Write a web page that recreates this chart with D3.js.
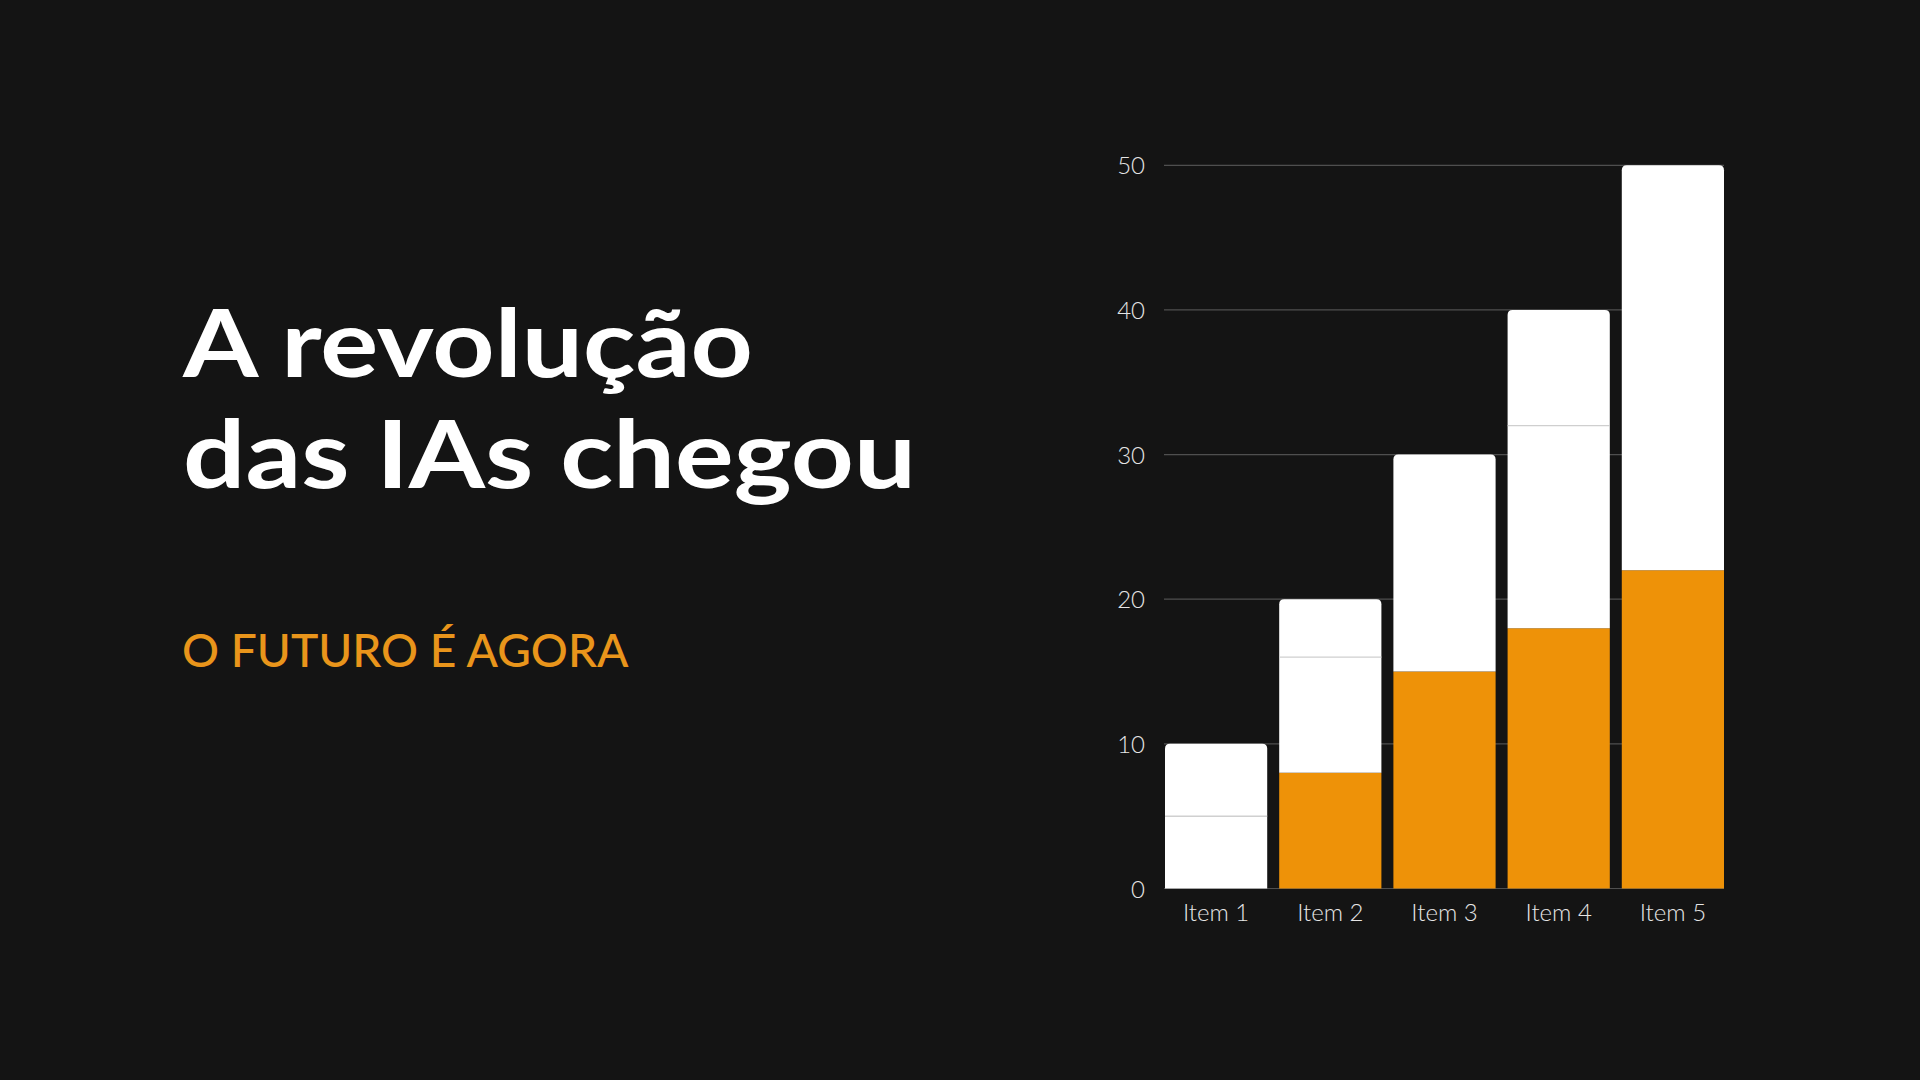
<!DOCTYPE html>
<html>
<head>
<meta charset="utf-8">
<script src="https://cdn.jsdelivr.net/npm/d3@7"></script>
<style>
  html, body { margin: 0; padding: 0; background: #141414; }
  svg { display: block; }
</style>
</head>
<body>
<div id="chart"></div>
<script>
// ---- Data ----
const categories = ["Item 1", "Item 2", "Item 3", "Item 4", "Item 5"];
const seriesOrange = [0, 8, 15, 18, 22];
const seriesWhiteA = [5, 8, 15, 14, 28];
const seriesWhiteB = [5, 4, 0, 8, 0];
const yTicks = [0, 10, 20, 30, 40, 50];
const titleLines = ["A revolução", "das IAs chegou"];
const subtitle = "O FUTURO É AGORA";

// ---- Setup ----
const W = 1920, H = 1080;
const svg = d3.select("#chart").append("svg")
  .attr("width", W).attr("height", H);
svg.append("rect").attr("width", W).attr("height", H).attr("fill", "#141414");

const colors = ["#EE9208", "#FFFFFF", "#FFFFFF"];

const x = d3.scaleBand().domain(categories).range([1165, 1724]).paddingInner(0.105).paddingOuter(0);
const y = d3.scaleLinear().domain([0, 50]).range([888.5, 165.3]);

// gridlines
svg.append("g").selectAll("line").data(yTicks).join("line")
  .attr("x1", 1164).attr("x2", 1724)
  .attr("y1", d => y(d)).attr("y2", d => y(d))
  .attr("stroke", "#4f4f4f").attr("stroke-width", 1.2);

// y axis labels
const yAxis = d3.axisLeft(y).tickValues(yTicks).tickSize(0).tickPadding(0);
const yg = svg.append("g").attr("transform", "translate(1145,0)").call(yAxis);
yg.select(".domain").remove();
yg.selectAll("text")
  .attr("font-family", "Lato, 'Open Sans', sans-serif")
  .attr("font-weight", 300)
  .attr("font-size", 24)
  .attr("fill", "#e6e6e6")
  .attr("dy", "0.36em");

// stacked data
const rows = categories.map((c, i) => ({cat: c, s0: seriesOrange[i], s1: seriesWhiteA[i], s2: seriesWhiteB[i]}));
const stack = d3.stack().keys(["s0", "s1", "s2"]);
const stacked = stack(rows);

// top index per category
const topKey = rows.map(r => (r.s2 > 0 ? 2 : (r.s1 > 0 ? 1 : 0)));
const R = 5;

function segPath(x0, w, yTop, yBot, rounded) {
  if (!rounded) return `M${x0},${yBot}V${yTop}H${x0 + w}V${yBot}Z`;
  const r = Math.min(R, (yBot - yTop));
  return `M${x0},${yBot}V${yTop + r}Q${x0},${yTop} ${x0 + r},${yTop}H${x0 + w - r}Q${x0 + w},${yTop} ${x0 + w},${yTop + r}V${yBot}Z`;
}

const bars = svg.append("g");
stacked.forEach((layer, li) => {
  bars.selectAll(null).data(layer.filter(d => d[1] - d[0] > 0)).join("path")
    .attr("d", d => {
      const i = categories.indexOf(d.data.cat);
      return segPath(x(d.data.cat), x.bandwidth(), y(d[1]), y(d[0]), topKey[i] === li);
    })
    .attr("fill", colors[li]);
});

// separator lines between white segments
bars.selectAll("line.sep").data(rows.filter(r => r.s1 > 0 && r.s2 > 0)).join("line")
  .attr("class", "sep")
  .attr("x1", d => x(d.cat)).attr("x2", d => x(d.cat) + x.bandwidth())
  .attr("y1", d => y(d.s0 + d.s1)).attr("y2", d => y(d.s0 + d.s1))
  .attr("stroke", "#cfcfcf").attr("stroke-width", 1.2);

// x axis labels
const xAxis = d3.axisBottom(x).tickSize(0).tickPadding(0);
const xg = svg.append("g").attr("transform", "translate(0,888.5)").call(xAxis);
xg.select(".domain").remove();
xg.selectAll("text")
  .attr("font-family", "Lato, 'Open Sans', sans-serif")
  .attr("font-weight", 300)
  .attr("font-size", 24)
  .attr("fill", "#e6e6e6")
  .attr("dy", null)
  .attr("y", 32);

// title
const titleBaselines = [377.3, 488.3];
const titleWidths = [570, 733];
svg.append("g").selectAll("text").data(titleLines).join("text")
  .attr("x", 183)
  .attr("y", (d, i) => titleBaselines[i])
  .attr("font-family", "Lato, 'Open Sans', sans-serif")
  .attr("font-weight", 700)
  .attr("font-size", 93)
  .attr("fill", "#ffffff")
  .attr("textLength", (d, i) => titleWidths[i])
  .attr("lengthAdjust", "spacingAndGlyphs")
  .text(d => d);

svg.append("text")
  .attr("x", 182)
  .attr("y", 666.7)
  .attr("font-family", "Lato, 'Open Sans', sans-serif")
  .attr("font-weight", 500)
  .attr("font-size", 45.5)
  .attr("fill", "#E9951B")
  .attr("textLength", 446.5)
  .attr("lengthAdjust", "spacingAndGlyphs")
  .text(subtitle);
</script>
</body>
</html>
